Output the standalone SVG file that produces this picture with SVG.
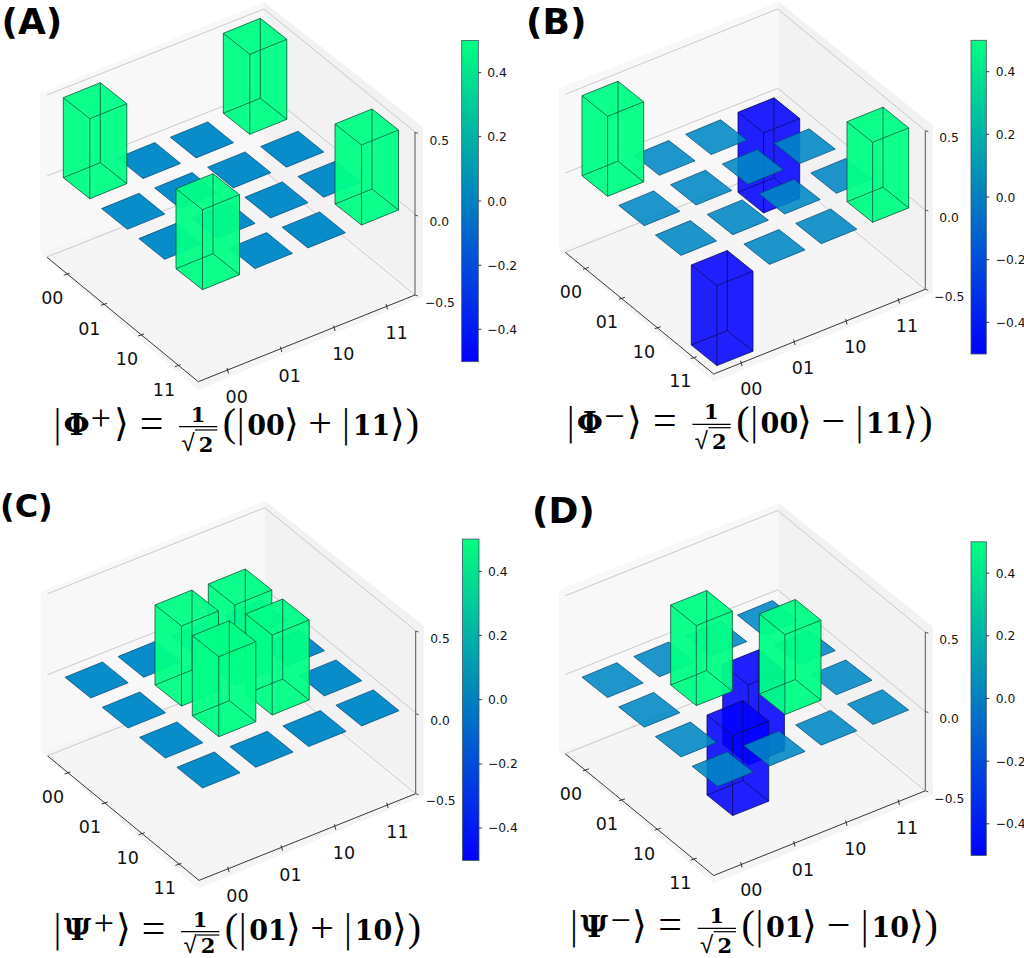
<svg xmlns="http://www.w3.org/2000/svg" xmlns:xlink="http://www.w3.org/1999/xlink" width="1024" height="958" viewBox="0 0 1024 958">
<style>
.lw{fill:#f8f8f8}.rw{fill:#f2f2f2}.fl{fill:#f5f5f5}
.grid{stroke:#c4c4c4;stroke-width:.9;fill:none}
.axis{stroke:#222;stroke-width:.9;fill:none}
.zax{stroke:#555;stroke-width:1;fill:none}
.t1{fill:#0088c8;fill-opacity:.97;stroke:#00456b;stroke-width:.7}
.t2{fill:#0088c4;fill-opacity:.88;stroke:#00456b;stroke-width:.7}
.edge{fill:none;stroke-width:.8}
.sil{stroke:none}
.g{fill:#00ff86;fill-opacity:.95;stroke:#07583a}
.b{fill:#0000ff;fill-opacity:.87;stroke:#0a0a60}
.ax{font:17.5px "DejaVu Sans",sans-serif;fill:#111;text-anchor:middle}
.tk{font:12.3px "DejaVu Sans",sans-serif;fill:#111;text-anchor:middle}
.cb{font:12.3px "DejaVu Sans",sans-serif;fill:#111}
.cbar{fill:url(#winter);stroke:#456;stroke-width:.8}
.ttl{font:bold 36px "DejaVu Sans",sans-serif;fill:#000}
.m{font:bold 27px "DejaVu Serif",serif;fill:#000;text-anchor:middle}
.gk{font:bold 30px "DejaVu Serif",serif;fill:#000;text-anchor:middle}
.f{font:bold 21px "DejaVu Serif",serif;fill:#000;text-anchor:middle}
.d{font:200 38px "DejaVu Sans",sans-serif;fill:#000;text-anchor:middle}
.p{font:40px "Liberation Serif",serif;fill:#000;text-anchor:middle}
.o{font:42px "Liberation Serif",serif;fill:#000;text-anchor:middle}
.s{font:36px "Liberation Serif",serif;fill:#000;text-anchor:middle}
.r{font:200 24px "DejaVu Sans",sans-serif;fill:#000;text-anchor:middle}
.bar{stroke:#000;stroke-width:1.2}
</style>
<defs>
<linearGradient id="winter" x1="0" y1="1" x2="0" y2="0"><stop offset="0" stop-color="#0000ff"/><stop offset="1" stop-color="#00ff80"/></linearGradient>
<path id="t1" class="t1" d="M0,0 37.5,-15.3 63.2,5.5 25.7,20.7Z"/>
<path id="t2" class="t2" d="M0,0 35,-14.5 61.2,5.8 25.5,20.3Z"/>
<g id="box1"><path class="sil" d="M0,-80 37,-95 63.5,-74 63.5,6 26.5,21 0,0Z"/><path class="edge" d="M0,-80 37,-95 63.5,-74 63.5,6 26.5,21 0,0ZM0,-80 26.5,-59 63.5,-74M26.5,-59V21M37,-95V-15M0,0 37,-15 63.5,6"/></g>
<g id="box2"><path class="sil" d="M0,-80 36,-94.5 61.7,-73.8 61.7,6.2 25.6,20.6 0,0Z"/><path class="edge" d="M0,-80 36,-94.5 61.7,-73.8 61.7,6.2 25.6,20.6 0,0ZM0,-80 25.6,-59.4 61.7,-73.8M25.6,-59.4V20.6M36,-94.5V-14.5M0,0 36,-14.5 61.7,6.2"/></g>
<g id="frame1">
<polygon class="lw" points="40,93 264,2 264,172 40,253"/><polygon class="rw" points="264,2 423,127 423,297 264,172"/><polygon class="fl" points="40,253 264,172 423,297 198,390"/>
<path class="grid" d="M47,95 264,9 415,132M47,176 264,90 415,214M47,257 264,171 415,295"/>
<path class="axis" d="M47,257.3 198.3,381.7 415,295M63.7,275.3 69.7,273.3M101,305.3 107,303.3M138,336 144,334M174.7,366.7 180.7,364.7M227,368 228.5,373.5M280.3,346.6 281.8,352M333.6,325.6 335.1,331M386,304 387.5,309.4"/>
<path class="zax" d="M415,132.3V295M415,132.3 418,133.3M415,215 418,216M415,295 418,296"/>
<text class="ax" x="52.3" y="304">00</text><text class="ax" x="89.3" y="334.6">01</text><text class="ax" x="127" y="365.3">10</text><text class="ax" x="164" y="395.6">11</text>
<text class="ax" x="236.7" y="403">00</text><text class="ax" x="289.7" y="382">01</text><text class="ax" x="343.3" y="360.3">10</text><text class="ax" x="396.7" y="339">11</text>
<text class="tk" x="439.3" y="144.5">0.5</text><text class="tk" x="439.3" y="226.2">0.0</text><text class="tk" x="440" y="306.8">−0.5</text>
<rect class="cbar" x="461.7" y="40.4" width="16.6" height="321.3"/>
<path class="axis" d="M478.3,72.7h3M478.3,136.7h3M478.3,201h3M478.3,265.3h3M478.3,329.3h3"/>
<text class="cb" x="487.3" y="77.2">0.4</text><text class="cb" x="487.3" y="141.2">0.2</text><text class="cb" x="487.3" y="205.5">0.0</text><text class="cb" x="487.3" y="269.8">−0.2</text><text class="cb" x="487.3" y="333.8">−0.4</text>
</g>
<g id="frame2">
<polygon class="lw" points="46.7,88.3 266.7,1.7 266.7,167.6 46.7,250"/><polygon class="rw" points="266.7,1.7 420.7,125 420.7,293 266.7,167.6"/><polygon class="fl" points="46.7,250 266.7,167.6 420.7,293 201.7,381.7"/>
<path class="grid" d="M53.3,94.3 265.7,9 413.3,130.7M53.3,173 265.7,88.3 413.3,210M53.3,252.3 265.7,167.6 413.3,289.3"/>
<path class="axis" d="M53.3,252.3 201.7,374 413.3,289.3M71,269.3 77,267.3M107,299.3 113,297.3M142.7,328.7 148.7,326.7M178.7,358.7 184.7,356.7M228.6,360.6 230.1,366M281.6,339.6 283.1,345M333.6,319 335.1,324.4M386,298 387.5,303.4"/>
<path class="zax" d="M413.3,130.7V289.3M413.3,130.7 416.3,131.7M413.3,210 416.3,211M413.3,289.3 416.3,290.3"/>
<text class="ax" x="59" y="298">00</text><text class="ax" x="95" y="328">01</text><text class="ax" x="132" y="358">10</text><text class="ax" x="168.3" y="387.3">11</text>
<text class="ax" x="239.3" y="394.6">00</text><text class="ax" x="291" y="374">01</text><text class="ax" x="343.3" y="353">10</text><text class="ax" x="395" y="332.3">11</text>
<text class="tk" x="437" y="142.2">0.5</text><text class="tk" x="437" y="221.5">0.0</text><text class="tk" x="437.3" y="301.2">−0.5</text>
<rect class="cbar" x="459" y="40.3" width="15.3" height="313.7"/>
<path class="axis" d="M474.3,71.7h3M474.3,134.3h3M474.3,197h3M474.3,259.7h3M474.3,322.3h3"/>
<text class="cb" x="483.7" y="76.2">0.4</text><text class="cb" x="483.7" y="138.8">0.2</text><text class="cb" x="483.7" y="201.5">0.0</text><text class="cb" x="483.7" y="264.2">−0.2</text><text class="cb" x="483.7" y="326.8">−0.4</text>
</g>
</defs>

<g id="panel-A">
<use href="#frame1"/>
<g id="tiles-A"><use href="#t1" x="117.3" y="157.9"/><use href="#t1" x="170.3" y="137.2"/><use href="#t1" x="101.6" y="208.6"/><use href="#t1" x="154.6" y="187.9"/><use href="#t1" x="207.6" y="167.2"/><use href="#t1" x="260.6" y="146.5"/><use href="#t1" x="138.9" y="238.6"/><use href="#t1" x="191.9" y="217.9"/><use href="#t1" x="244.9" y="197.2"/><use href="#t1" x="297.9" y="176.5"/><use href="#t1" x="229.2" y="247.9"/><use href="#t1" x="282.2" y="227.2"/></g>
<g id="bars-A"><use href="#box1" class="g" x="223.3" y="113.3"/><use href="#box1" class="g" x="63.3" y="177.7"/><use href="#box1" class="g" x="335" y="204"/><use href="#box1" class="g" x="176" y="268.7"/></g>
<text class="ttl" x="1.5" y="34.3">(A)</text>
<g id="formula-A">
<text class="d" x="57.3" y="436">|</text><text class="gk" x="76.5" y="435">Φ</text><text class="s" x="101" y="430">+</text><text class="d" x="121" y="436">⟩</text><text class="o" x="151.5" y="436.5">=</text>
<text class="f" x="198" y="421.7">1</text><line class="bar" x1="179" y1="426.7" x2="217.3" y2="426.7"/><text class="r" x="188" y="451">√</text><line class="bar" x1="195" y1="430" x2="217.3" y2="430"/><text class="f" x="206" y="451.7">2</text>
<text class="p" x="229.5" y="436">(</text><text class="d" x="240.7" y="436">|</text><text class="m" x="266" y="435">00</text><text class="d" x="291" y="436">⟩</text><text class="o" x="320" y="437">+</text><text class="d" x="346" y="436">|</text><text class="m" x="371.5" y="435">11</text><text class="d" x="397.5" y="436">⟩</text><text class="p" x="412.5" y="436">)</text>
</g>
</g>

<g id="panel-B">
<use href="#frame2" x="512"/>
<g transform="translate(512,0)">
<g id="neg-B"><use href="#box2" class="b" x="226" y="192.3"/><use href="#box2" class="b" x="179.3" y="345"/></g>
<g id="tiles-B"><use href="#t2" x="121.8" y="155"/><use href="#t2" x="173.6" y="134.3"/><use href="#t2" x="106.7" y="205.4"/><use href="#t2" x="158.5" y="184.7"/><use href="#t2" x="210.3" y="164"/><use href="#t2" x="262.1" y="143.3"/><use href="#t2" x="143.4" y="235.1"/><use href="#t2" x="195.2" y="214.4"/><use href="#t2" x="247" y="193.7"/><use href="#t2" x="298.8" y="173"/><use href="#t2" x="231.9" y="244.1"/><use href="#t2" x="283.7" y="223.4"/></g>
<g id="pos-B"><use href="#box2" class="g" x="70" y="175.7"/><use href="#box2" class="g" x="335" y="201.7"/></g>
</g>
<text class="ttl" x="526" y="34.3">(B)</text>
<g id="formula-B" transform="translate(513.4,-2.3)">
<text class="d" x="57.3" y="436">|</text><text class="gk" x="76.5" y="435">Φ</text><text class="s" x="101" y="430">−</text><text class="d" x="121" y="436">⟩</text><text class="o" x="151.5" y="436.5">=</text>
<text class="f" x="198" y="421.7">1</text><line class="bar" x1="179" y1="426.7" x2="217.3" y2="426.7"/><text class="r" x="188" y="451">√</text><line class="bar" x1="195" y1="430" x2="217.3" y2="430"/><text class="f" x="206" y="451.7">2</text>
<text class="p" x="229.5" y="436">(</text><text class="d" x="240.7" y="436">|</text><text class="m" x="266" y="435">00</text><text class="d" x="291" y="436">⟩</text><text class="o" x="320" y="437">−</text><text class="d" x="346" y="436">|</text><text class="m" x="371.5" y="435">11</text><text class="d" x="397.5" y="436">⟩</text><text class="p" x="412.5" y="436">)</text>
</g>
</g>

<g id="panel-C">
<g transform="translate(.7,498.7)">
<use href="#frame1"/>
<g id="tiles-C"><use href="#t1" x="64.3" y="178.6"/><use href="#t1" x="117.3" y="157.9"/><use href="#t1" x="170.3" y="137.2"/><use href="#t1" x="223.3" y="116.5"/><use href="#t1" x="101.6" y="208.6"/><use href="#t1" x="260.6" y="146.5"/><use href="#t1" x="138.9" y="238.6"/><use href="#t1" x="297.9" y="176.5"/><use href="#t1" x="176.2" y="268.6"/><use href="#t1" x="229.2" y="247.9"/><use href="#t1" x="282.2" y="227.2"/><use href="#t1" x="335.2" y="206.5"/></g>
<g id="bars-C"><use href="#box1" class="g" x="207.6" y="165.3"/><use href="#box1" class="g" x="154.3" y="186.3"/><use href="#box1" class="g" x="245" y="195.3"/><use href="#box1" class="g" x="191.6" y="217"/></g>
</g>
<text class="ttl" x="0" y="516.7" style="font-size:32px">(C)</text>
<g id="formula-C" transform="translate(0,505)">
<text class="d" x="57.3" y="436">|</text><text class="gk" x="77.5" y="435">Ψ</text><text class="s" x="104" y="430">+</text><text class="d" x="123" y="436">⟩</text><text class="o" x="153.5" y="436.5">=</text>
<text class="f" x="200" y="421.7">1</text><line class="bar" x1="181" y1="426.7" x2="219.3" y2="426.7"/><text class="r" x="190" y="447.5">√</text><line class="bar" x1="197" y1="430" x2="219.3" y2="430"/><text class="f" x="208" y="448">2</text>
<text class="p" x="231.5" y="436">(</text><text class="d" x="242.7" y="436">|</text><text class="m" x="268" y="435">01</text><text class="d" x="293" y="436">⟩</text><text class="o" x="322" y="437">+</text><text class="d" x="348" y="436">|</text><text class="m" x="373.5" y="435">10</text><text class="d" x="399.5" y="436">⟩</text><text class="p" x="414.5" y="436">)</text>
</g>
</g>

<g id="panel-D">
<use href="#frame2" x="512" y="501.5"/>
<g transform="translate(512,501.5)">
<g id="neg-D"><use href="#box2" class="b" x="210.7" y="242.8"/><use href="#box2" class="b" x="195" y="293.5"/></g>
<g id="tiles-D"><use href="#t2" x="70" y="175.7"/><use href="#t2" x="121.8" y="155"/><use href="#t2" x="173.6" y="134.3"/><use href="#t2" x="225.4" y="113.6"/><use href="#t2" x="106.7" y="205.4"/><use href="#t2" x="262.1" y="143.3"/><use href="#t2" x="143.4" y="235.1"/><use href="#t2" x="298.8" y="173"/><use href="#t2" x="180.1" y="264.8"/><use href="#t2" x="231.9" y="244.1"/><use href="#t2" x="283.7" y="223.4"/><use href="#t2" x="335.5" y="202.7"/></g>
<g id="pos-D"><use href="#box2" class="g" x="158.7" y="183.5"/><use href="#box2" class="g" x="247.3" y="192.5"/></g>
</g>
<text class="ttl" x="532" y="523.3">(D)</text>
<g id="formula-D" transform="translate(516.7,501.7)">
<text class="d" x="57.3" y="436">|</text><text class="gk" x="77.5" y="435">Ψ</text><text class="s" x="104" y="430">−</text><text class="d" x="123" y="436">⟩</text><text class="o" x="153.5" y="436.5">=</text>
<text class="f" x="200" y="421.7">1</text><line class="bar" x1="181" y1="426.7" x2="219.3" y2="426.7"/><text class="r" x="190" y="451">√</text><line class="bar" x1="197" y1="430" x2="219.3" y2="430"/><text class="f" x="208" y="451.7">2</text>
<text class="p" x="231.5" y="436">(</text><text class="d" x="242.7" y="436">|</text><text class="m" x="268" y="435">01</text><text class="d" x="293" y="436">⟩</text><text class="o" x="322" y="437">−</text><text class="d" x="348" y="436">|</text><text class="m" x="373.5" y="435">10</text><text class="d" x="399.5" y="436">⟩</text><text class="p" x="414.5" y="436">)</text>
</g>
</g>
</svg>
